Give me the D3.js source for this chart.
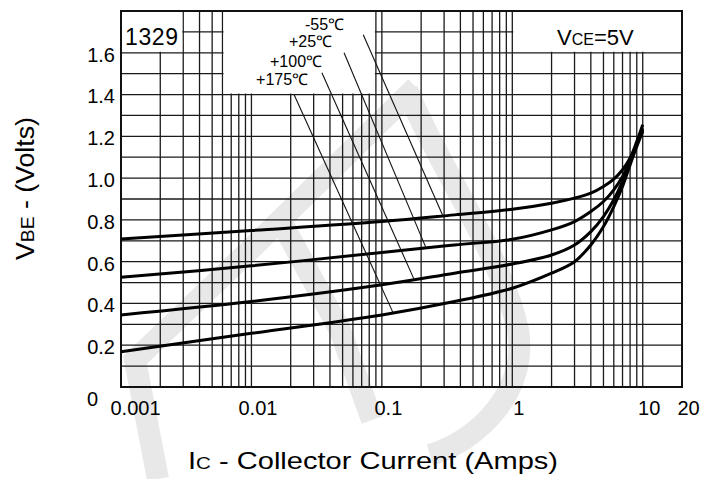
<!DOCTYPE html>
<html>
<head>
<meta charset="utf-8">
<script src="https://cdn.jsdelivr.net/npm/d3@7"></script>
<style>
body{margin:0;background:#fff;}
text{font-family:"Liberation Sans",Arial,sans-serif;fill:#000;}
</style>
</head>
<body>
<script>
// collector current (A) where the curves were read
var currents = [0.001,0.01,0.1,0.36,1,2,3,4,5,6,7,8,9,10];
// VBE (V) for each temperature
var vbeM55 = [0.708,0.749,0.792,0.824,0.851,0.880,0.904,0.928,0.960,0.995,1.040,1.096,1.175,1.255];
var vbe25  = [0.525,0.580,0.644,0.680,0.707,0.752,0.792,0.840,0.888,0.944,1.008,1.087,1.167,1.239];
var vbe100 = [0.345,0.409,0.489,0.545,0.589,0.632,0.680,0.744,0.816,0.896,0.984,1.079,1.159,1.231];
var vbe175 = [0.169,0.257,0.345,0.409,0.473,0.545,0.600,0.680,0.768,0.864,0.960,1.063,1.151,1.223];
var seriesNames = ["-55\u2103","+25\u2103","+100\u2103","+175\u2103"];

var xTickValues = [0.001,0.01,0.1,1,10,20];
var xTickLabels = ["0.001","0.01","0.1","1","10","20"];
var yTickValues = [0,0.2,0.4,0.6,0.8,1.0,1.2,1.4,1.6];
var yTickLabels = ["0","0.2","0.4","0.6","0.8","1.0","1.2","1.4","1.6"];

// leader lines: label end (current, volts) -> point on curve (current)
var leaderFrom = [[0.072,1.686],[0.0513,1.60],[0.0347,1.504],[0.0212,1.40]];
var leaderToX = [0.294,0.218,0.177,0.122];
var labelAt = [[0.0513,1.71],[0.0415,1.629],[0.0348,1.533],[0.0272,1.447]];

//globals
var W=705, H=479;
var plotL=121, plotR=682, plotT=11, plotB=387;

var x = d3.scaleLog().domain([0.001,20]).range([plotL,plotR]);
var y = d3.scaleLinear().domain([0,1.8]).range([plotB,plotT]);

var svg = d3.select("body").append("svg")
    .attr("width",W)
    .attr("height",H);

// faint watermark behind everything
var wm = svg.append("g")
    .attr("fill","none")
    .attr("stroke","#e8e8e8")
    .attr("stroke-width",22);
wm.append("path").attr("d","M416,87 L253,247 L135,360 L158,479");
wm.append("path").attr("d","M283,225 L340,330 L372,420");
wm.append("path").attr("d","M407,90 C440,170 500,250 518,330 C528,390 480,440 430,455");

// grid lines
var vLines = [];
for(var d=-3; d<=1; d++){
    for(var m=1; m<=9; m++){
        var v = m*Math.pow(10,d);
        if(v<=20) vLines.push(v);
    }
}
vLines.push(20);
var hLines = d3.range(0,19).map(function(i){return i/10;});

var grid = svg.append("g")
    .attr("stroke","#1a1a1a")
    .attr("stroke-width",1.3);

grid.selectAll("line.v")
    .data(vLines)
    .enter()
    .append("line")
    .attr("class","v")
    .attr("x1",function(d){return x(d)})
    .attr("x2",function(d){return x(d)})
    .attr("y1",y(0))
    .attr("y2",y(1.8));

grid.selectAll("line.h")
    .data(hLines)
    .enter()
    .append("line")
    .attr("class","h")
    .attr("x1",x(0.001))
    .attr("x2",x(20))
    .attr("y1",function(d){return y(d)})
    .attr("y2",function(d){return y(d)});

// white boxes for the text blocks
var boxes = [[0.001,0.003,1.6],[0.006,0.09,1.4],[1,20,1.6]];
svg.append("g").selectAll("rect")
    .data(boxes)
    .enter()
    .append("rect")
    .attr("x",function(d){return x(d[0])+1})
    .attr("y",y(1.8)+1)
    .attr("width",function(d){return x(d[1])-x(d[0])-2})
    .attr("height",function(d){return y(d[2])-y(1.8)-2})
    .attr("fill","#fff");

// frame
svg.append("rect")
    .attr("x",plotL)
    .attr("y",plotT)
    .attr("width",plotR-plotL)
    .attr("height",plotB-plotT)
    .attr("fill","none")
    .attr("stroke","#111")
    .attr("stroke-width",2);

// curves
var allSeries = [vbeM55,vbe25,vbe100,vbe175];
var line = d3.line()
    .x(function(d){return x(d[0])})
    .y(function(d){return y(d[1])})
    .curve(d3.curveCatmullRom.alpha(0.5));

svg.append("g").selectAll("path")
    .data(allSeries)
    .enter()
    .append("path")
    .attr("d",function(s){
        return line(currents.map(function(c,i){return [c,s[i]];}));
    })
    .attr("fill","none")
    .attr("stroke","#000")
    .attr("stroke-width",3);

// value on a curve (linear in log current)
function vbeAt(s,c){
    var lc = Math.log10(c);
    for(var i=0;i<currents.length-1;i++){
        var a=Math.log10(currents[i]), b=Math.log10(currents[i+1]);
        if(lc>=a && lc<=b){
            return s[i]+(s[i+1]-s[i])*(lc-a)/(b-a);
        }
    }
    return s[s.length-1];
}

// leader lines
svg.append("g").selectAll("line")
    .data(leaderFrom)
    .enter()
    .append("line")
    .attr("x1",function(d){return x(d[0])})
    .attr("y1",function(d){return y(d[1])})
    .attr("x2",function(d,i){return x(leaderToX[i])})
    .attr("y2",function(d,i){return y(vbeAt(allSeries[i],leaderToX[i]))})
    .attr("stroke","#111")
    .attr("stroke-width",1.1);

// temperature labels
svg.append("g").selectAll("text")
    .data(seriesNames)
    .enter()
    .append("text")
    .attr("x",function(d,i){return x(labelAt[i][0])})
    .attr("y",function(d,i){return y(labelAt[i][1])})
    .attr("text-anchor","end")
    .style("font-size","16px")
    .text(function(d){return d});

// x axis labels
var xAxis = d3.axisBottom(x)
    .tickValues(xTickValues)
    .tickFormat(function(d,i){return xTickLabels[i]})
    .tickSize(0);
var gx = svg.append("g")
    .attr("transform","translate(0,"+plotB+")")
    .call(xAxis);
gx.select(".domain").remove();
gx.selectAll("text")
    .attr("y",28)
    .attr("dy",0)
    .attr("dx",function(d,i){return i==0 ? 14 : 6})
    .style("font-size","20px")
    .style("font-family","'Liberation Sans',Arial,sans-serif")
    .attr("fill","#000");

// y axis labels
var yAxis = d3.axisLeft(y)
    .tickValues(yTickValues)
    .tickFormat(function(d,i){return yTickLabels[i]})
    .tickSize(0)
    .tickPadding(6);
var gy = svg.append("g")
    .attr("transform","translate("+plotL+",0)")
    .call(yAxis);
gy.select(".domain").remove();
gy.selectAll("text")
    .attr("dy","0.42em")
    .style("font-size","20px")
    .style("font-family","'Liberation Sans',Arial,sans-serif")
    .attr("fill","#000");
gy.selectAll(".tick").filter(function(d){return d==0})
    .select("text")
    .attr("x",-23)
    .attr("dy","0.9em");

// axis titles
var xt = svg.append("text")
    .attr("x",188)
    .attr("y",469)
    .attr("textLength",370)
    .attr("lengthAdjust","spacingAndGlyphs")
    .style("font-size","24px");
xt.append("tspan").text("I");
xt.append("tspan").style("font-size","17px").text("C");
xt.append("tspan").text(" - Collector Current (Amps)");

var yt = svg.append("text")
    .attr("transform","translate(34,260) rotate(-90)")
    .attr("textLength",143)
    .attr("lengthAdjust","spacingAndGlyphs")
    .style("font-size","25px");
yt.append("tspan").text("V");
yt.append("tspan").style("font-size","18px").text("BE");
yt.append("tspan").text(" - (Volts)");

// condition text
var vce = svg.append("text")
    .attr("x",557)
    .attr("y",45)
    .style("font-size","22px");
vce.append("tspan").text("V");
vce.append("tspan").style("font-size","16px").text("CE");
vce.append("tspan").text("=5V");

svg.append("text")
    .attr("x",125)
    .attr("y",45)
    .attr("textLength",53)
    .style("font-size","23px")
    .attr("fill","#333")
    .text("1329");
</script>
</body>
</html>
